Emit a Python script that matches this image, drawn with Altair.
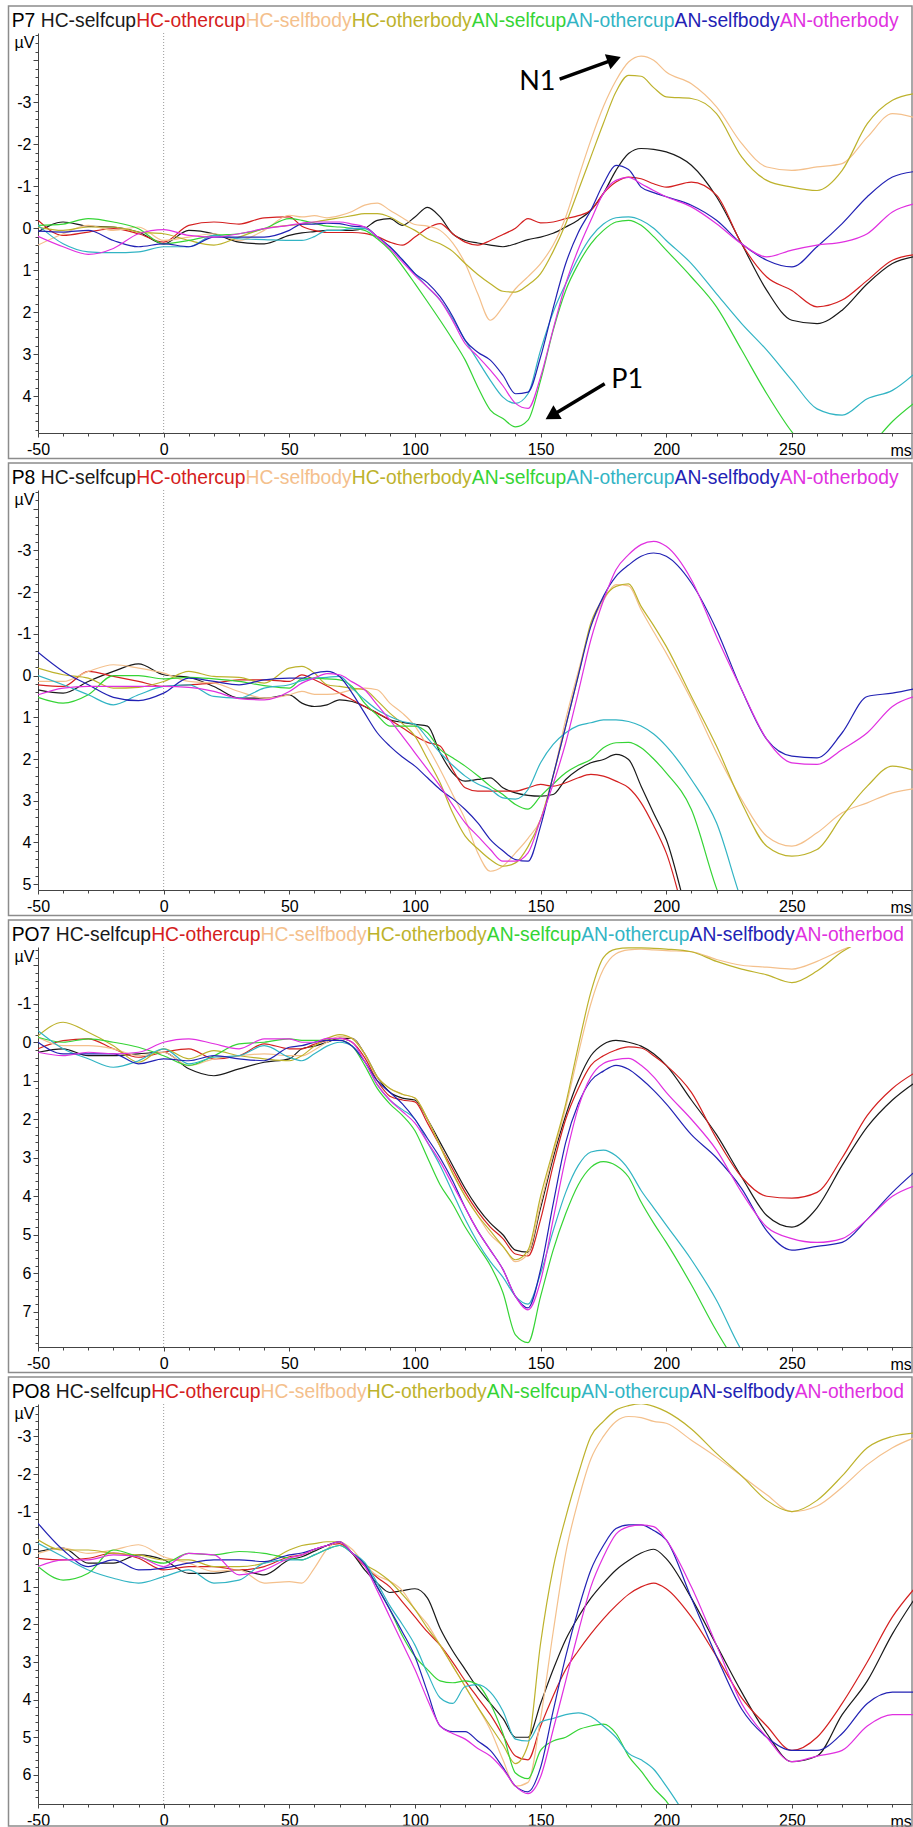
import math
import altair as alt
import pandas as pd

# Sampling times (ms) shared by every waveform
TIME = [-50, -40, -30, -20, -10, 0, 10, 20, 30, 40, 50,
        55, 60, 65, 70, 75, 80, 85, 90, 95, 100,
        105, 110, 115, 120, 125, 130, 135, 140, 145, 150,
        155, 160, 165, 170, 175, 180, 185, 190, 195, 200,
        210, 220, 230, 240, 250, 260, 270, 280, 290, 300]

SERIES = ["HC-selfcup", "HC-othercup", "HC-selfbody", "HC-otherbody",
          "AN-selfcup", "AN-othercup", "AN-selfbody", "AN-otherbody"]
COLORS = ["#1a1a1a", "#d42020", "#f4c08c", "#bdb22c",
          "#35d435", "#32b4c4", "#2222b4", "#e030e0"]

# ---- P7 (µV) ----
P7_HC_SELFCUP = [0.09, -0.15, -0.05, -0.03, 0.09, 0.37, 0.05, 0.13, 0.33, 0.37, 0.17,
                 0.11, 0.08, 0.05, 0.05, 0.05, 0.0, -0.19, -0.23, -0.07, -0.27,
                 -0.5, -0.27, 0.13, 0.29, 0.35, 0.4, 0.44, 0.37, 0.27, 0.21,
                 0.12, -0.03, -0.2, -0.43, -0.83, -1.38, -1.78, -1.9, -1.88, -1.82,
                 -1.5, -0.75, 0.37, 1.48, 2.19, 2.27, 1.95, 1.32, 0.84, 0.66]
P7_HC_OTHERCUP = [-0.19, 0.17, 0.09, 0.01, 0.13, 0.33, -0.07, -0.15, -0.1, -0.25, -0.27,
                  -0.05, 0.05, 0.1, 0.1, 0.1, 0.12, 0.2, 0.33, 0.4, 0.21,
                  0.0, -0.11, 0.13, 0.33, 0.4, 0.29, 0.15, 0.0, -0.23, -0.13,
                  -0.15, -0.23, -0.3, -0.43, -0.83, -1.1, -1.22, -1.18, -1.06, -0.98,
                  -1.1, -0.79, 0.37, 1.16, 1.48, 1.87, 1.71, 1.24, 0.76, 0.62]
P7_HC_SELFBODY = [0.4, 0.13, -0.07, 0.05, -0.03, 0.29, 0.21, 0.13, 0.29, 0.05, -0.31,
                  -0.27, -0.3, -0.25, -0.3, -0.4, -0.55, -0.6, -0.43, -0.25, -0.09,
                  -0.05, 0.05, 0.35, 0.84, 1.56, 2.19, 1.87, 1.44, 1.15, 0.84,
                  0.4, -0.27, -1.2, -2.1, -2.9, -3.52, -3.96, -4.1, -4.0, -3.72,
                  -3.44, -2.89, -2.02, -1.46, -1.38, -1.46, -1.54, -2.17, -2.73, -2.62]
P7_HC_OTHERBODY = [-0.03, 0.05, -0.03, -0.03, 0.09, 0.13, 0.29, 0.4, 0.21, 0.01, -0.07,
                   -0.1, -0.15, -0.2, -0.25, -0.3, -0.35, -0.35, -0.27, -0.1, 0.05,
                   0.25, 0.37, 0.55, 0.84, 1.1, 1.32, 1.5, 1.52, 1.35, 1.08,
                   0.55, -0.11, -0.9, -1.7, -2.5, -3.25, -3.64, -3.62, -3.35, -3.13,
                   -3.09, -2.73, -1.7, -1.14, -0.98, -0.9, -1.38, -2.49, -3.05, -3.22]
P7_AN_SELFCUP = [-0.07, -0.1, -0.23, -0.15, 0.01, 0.37, 0.29, 0.17, 0.13, 0.01, -0.23,
                 -0.19, -0.12, -0.05, -0.03, 0.0, 0.05, 0.25, 0.52, 0.9, 1.32,
                 1.75, 2.19, 2.65, 3.14, 3.78, 4.33, 4.53, 4.73, 4.57, 3.62,
                 2.43, 1.48, 0.85, 0.37, 0.05, -0.15, -0.19, -0.07, 0.2, 0.52,
                 1.16, 1.87, 2.9, 3.94, 4.85, 5.5, 5.6, 5.25, 4.6, 4.1]
P7_AN_OTHERCUP = [-0.07, 0.37, 0.56, 0.58, 0.56, 0.44, 0.44, 0.17, 0.25, 0.27, 0.29,
                  0.29, 0.2, 0.05, 0.05, 0.0, 0.01, 0.2, 0.44, 0.75, 1.08,
                  1.4, 1.71, 2.15, 2.67, 3.15, 3.62, 4.02, 4.17, 3.94, 2.9,
                  2.0, 1.32, 0.7, 0.21, -0.1, -0.25, -0.27, -0.19, 0.0, 0.29,
                  0.84, 1.56, 2.27, 2.9, 3.62, 4.3, 4.45, 4.06, 3.86, 3.4]
P7_AN_SELFBODY = [0.07, 0.09, 0.05, 0.29, 0.44, 0.37, 0.44, 0.21, 0.21, 0.21, 0.05,
                  -0.1, -0.1, -0.12, -0.11, -0.05, -0.03, 0.2, 0.44, 0.75, 1.08,
                  1.3, 1.63, 2.1, 2.67, 2.95, 3.14, 3.5, 3.94, 3.9, 3.06,
                  1.9, 0.84, 0.1, -0.43, -1.06, -1.5, -1.4, -0.98, -0.85, -0.75,
                  -0.55, -0.19, 0.37, 0.76, 0.92, 0.44, -0.11, -0.75, -1.22, -1.36]
P7_AN_OTHERBODY = [0.19, 0.44, 0.62, 0.48, 0.13, 0.03, 0.17, 0.21, 0.13, 0.01, -0.07,
                   -0.12, -0.15, -0.15, -0.15, -0.1, -0.03, 0.2, 0.48, 0.8, 1.12,
                   1.4, 1.71, 2.2, 2.75, 3.05, 3.38, 3.75, 4.17, 4.29, 3.54,
                   2.4, 1.32, 0.5, -0.19, -0.83, -1.14, -1.21, -1.06, -0.9, -0.75,
                   -0.51, -0.11, 0.37, 0.68, 0.52, 0.4, 0.33, 0.13, -0.39, -0.6]

# ---- P8 (µV) ----
P8_HC_SELFCUP = [0.34, 0.42, 0.14, -0.1, -0.28, -0.02, 0.04, 0.26, 0.54, 0.54, 0.46,
                 0.66, 0.74, 0.7, 0.58, 0.62, 0.74, 0.9, 1.06, 1.12, 1.17,
                 1.21, 1.85, 2.33, 2.53, 2.49, 2.45, 2.69, 2.81, 2.87, 2.89,
                 2.85, 2.49, 2.25, 2.09, 2.01, 1.89, 2.01, 2.65, 3.3, 3.93,
                 6.0, 7.0, 8.0, 8.5, 8.5, 8.3, 8.0, 7.6, 7.2, 6.8]
P8_HC_OTHERCUP = [0.22, 0.26, -0.1, 0.02, 0.14, 0.26, 0.22, 0.18, 0.1, 0.1, 0.14,
                  -0.02, 0.1, 0.25, 0.42, 0.58, 0.74, 0.9, 1.06, 1.25, 1.45,
                  1.6, 1.69, 2.25, 2.69, 2.77, 2.77, 2.77, 2.77, 2.69, 2.61,
                  2.65, 2.57, 2.45, 2.37, 2.41, 2.53, 2.69, 3.05, 3.6, 4.25,
                  6.3, 7.5, 8.3, 8.6, 8.5, 8.2, 7.8, 7.4, 7.0, 6.6]
P8_HC_SELFBODY = [0.14, 0.14, -0.1, -0.26, -0.18, -0.06, 0.14, 0.18, 0.38, 0.54, 0.46,
                  0.38, 0.45, 0.45, 0.42, 0.34, 0.3, 0.34, 0.66, 0.9, 1.21,
                  1.7, 2.25, 2.85, 3.45, 4.25, 4.69, 4.57, 4.25, 3.9, 3.45,
                  2.4, 1.05, -0.1, -1.18, -1.8, -2.18, -2.15, -1.58, -1.05, -0.54,
                  0.58, 1.85, 2.97, 3.85, 4.09, 3.77, 3.29, 3.05, 2.81, 2.7]
P8_HC_OTHERBODY = [-0.18, -0.02, 0.06, 0.3, 0.28, 0.14, -0.1, 0.02, 0.04, 0.18, -0.18,
                   -0.22, -0.06, 0.22, 0.26, 0.3, 0.34, 0.6, 0.9, 1.15, 1.45,
                   2.0, 2.57, 3.29, 3.85, 4.15, 4.41, 4.57, 4.49, 4.1, 3.45,
                   2.4, 1.21, 0.0, -1.26, -1.85, -2.14, -2.2, -1.66, -1.2, -0.7,
                   0.5, 1.69, 3.05, 4.09, 4.33, 4.17, 3.37, 2.65, 2.17, 2.3]
P8_AN_SELFCUP = [0.52, 0.66, 0.46, 0.0, 0.0, 0.08, 0.04, 0.08, 0.14, 0.24, 0.3,
                 0.08, 0.06, 0.08, 0.1, 0.26, 0.66, 0.95, 1.21, 1.21, 1.21,
                 1.37, 1.77, 1.97, 2.17, 2.4, 2.65, 2.85, 3.09, 3.2, 2.89,
                 2.6, 2.33, 2.15, 2.01, 1.73, 1.61, 1.6, 1.73, 2.0, 2.33,
                 3.21, 5.1, 6.5, 7.3, 7.6, 7.6, 7.4, 7.1, 6.8, 6.5]
P8_AN_OTHERCUP = [0.0, 0.22, 0.46, 0.7, 0.46, 0.26, 0.22, 0.5, 0.54, 0.3, 0.22,
                  0.12, 0.06, 0.04, 0.02, 0.3, 0.58, 0.82, 0.98, 1.1, 1.17,
                  1.5, 1.85, 2.15, 2.41, 2.6, 2.73, 2.93, 2.96, 2.73, 2.09,
                  1.65, 1.37, 1.2, 1.13, 1.06, 1.06, 1.1, 1.21, 1.4, 1.69,
                  2.49, 3.53, 5.4, 6.8, 7.5, 7.8, 7.7, 7.4, 7.1, 6.8]
P8_AN_SELFBODY = [-0.56, -0.1, 0.22, 0.52, 0.6, 0.42, 0.06, 0.14, 0.22, 0.1, 0.06,
                  0.06, -0.06, -0.1, 0.02, 0.42, 0.9, 1.37, 1.69, 1.95, 2.17,
                  2.45, 2.73, 2.95, 3.21, 3.53, 3.93, 4.2, 4.41, 4.45, 3.61,
                  2.4, 1.21, 0.0, -1.18, -1.9, -2.38, -2.65, -2.86, -2.94, -2.86,
                  -2.22, -1.1, 0.34, 1.53, 1.93, 1.97, 1.37, 0.5, 0.42, 0.3]
P8_AN_OTHERBODY = [0.46, 0.3, 0.26, 0.26, 0.26, 0.26, 0.28, 0.38, 0.55, 0.58, 0.38,
                   0.18, 0.06, -0.05, -0.02, 0.15, 0.34, 0.7, 1.06, 1.45, 1.85,
                   2.25, 2.65, 3.1, 3.53, 3.85, 4.17, 4.45, 4.45, 4.25, 3.45,
                   2.6, 1.61, 0.4, -0.86, -1.8, -2.54, -2.9, -3.14, -3.22, -3.1,
                   -2.3, -0.94, 0.34, 1.53, 2.09, 2.13, 1.77, 1.37, 0.74, 0.48]

# ---- PO7 (µV) ----
PO7_HC_SELFCUP = [0.26, 0.17, 0.35, 0.35, 0.3, 0.26, 0.69, 0.87, 0.69, 0.52, 0.43,
                  0.17, 0.1, 0.0, -0.1, -0.1, 0.3, 0.9, 1.3, 1.45, 1.5,
                  2.0, 2.6, 3.2, 3.8, 4.3, 4.7, 5.0, 5.4, 5.45, 4.3,
                  3.0, 1.9, 1.0, 0.35, 0.05, -0.05, 0.0, 0.1, 0.3, 0.6,
                  1.5, 2.4, 3.5, 4.5, 4.8, 4.3, 3.2, 2.2, 1.5, 1.0]
PO7_HC_OTHERCUP = [0.17, -0.04, -0.09, 0.17, 0.39, 0.26, 0.17, 0.43, 0.35, 0.04, 0.17,
                   0.17, 0.05, -0.05, -0.1, 0.0, 0.4, 1.0, 1.4, 1.5, 1.55,
                   2.1, 2.7, 3.3, 3.9, 4.4, 4.8, 5.1, 5.5, 5.55, 4.6,
                   3.2, 2.0, 1.2, 0.6, 0.35, 0.2, 0.12, 0.15, 0.35, 0.6,
                   1.3, 2.5, 3.5, 4.0, 4.05, 3.9, 3.0, 1.9, 1.2, 0.75]
PO7_HC_SELFBODY = [-0.13, 0.09, 0.09, 0.17, 0.35, 0.26, 0.61, 0.43, 0.35, 0.3, 0.35,
                   0.35, 0.2, 0.0, -0.15, -0.1, 0.3, 0.9, 1.2, 1.35, 1.45,
                   2.0, 2.7, 3.4, 4.0, 4.5, 5.0, 5.3, 5.7, 5.5, 4.2,
                   2.9, 1.7, 0.3, -1.0, -1.9, -2.3, -2.4, -2.42, -2.4, -2.38,
                   -2.35, -2.15, -2.0, -1.95, -1.9, -2.1, -2.4, -2.65, -2.9, -3.1]
PO7_HC_OTHERBODY = [-0.17, -0.52, -0.26, 0.09, 0.52, 0.17, 0.43, 0.22, 0.35, 0.43, 0.48,
                    0.35, 0.1, -0.1, -0.2, -0.1, 0.3, 0.9, 1.2, 1.35, 1.45,
                    2.0, 2.7, 3.4, 4.0, 4.5, 4.9, 5.3, 5.65, 5.4, 4.0,
                    2.8, 1.6, 0.1, -1.3, -2.2, -2.42, -2.45, -2.45, -2.44, -2.42,
                    -2.35, -2.1, -1.9, -1.75, -1.55, -1.85, -2.35, -2.7, -3.0, -3.1]
PO7_AN_SELFCUP = [-0.13, 0.0, -0.09, 0.0, 0.13, 0.35, 0.6, 0.35, 0.04, 0.0, -0.09,
                  -0.05, -0.05, -0.05, -0.05, 0.1, 0.6, 1.2, 1.6, 1.9, 2.3,
                  3.0, 3.7, 4.2, 4.8, 5.3, 5.8, 6.5, 7.6, 7.8, 6.6,
                  5.4, 4.45, 3.7, 3.25, 3.1, 3.2, 3.5, 4.15, 4.7, 5.2,
                  6.3, 7.5, 8.5, 9.0, 9.2, 9.0, 8.8, 8.5, 8.3, 8.1]
PO7_AN_OTHERCUP = [-0.3, 0.17, 0.43, 0.65, 0.48, 0.17, 0.56, 0.39, 0.35, 0.09, 0.39,
                   0.48, 0.3, 0.1, 0.0, 0.1, 0.5, 1.1, 1.5, 1.75, 2.0,
                   2.6, 3.2, 3.9, 4.6, 5.2, 5.7, 6.1, 6.6, 6.8, 6.0,
                   4.9, 3.9, 3.2, 2.85, 2.8, 2.95, 3.3, 3.85, 4.3, 4.75,
                   5.65, 6.7, 8.0, 8.7, 9.0, 9.0, 8.8, 8.6, 8.4, 8.2]
PO7_AN_SELFBODY = [0.0, 0.3, 0.3, 0.3, 0.56, 0.43, 0.48, 0.35, 0.43, 0.48, 0.13,
                   0.09, 0.0, -0.05, -0.05, 0.1, 0.5, 1.0, 1.3, 1.6, 2.0,
                   2.5, 3.0, 3.6, 4.3, 4.9, 5.4, 5.9, 6.6, 6.9, 5.9,
                   4.2, 2.6, 1.6, 1.0, 0.75, 0.6, 0.7, 0.95, 1.25, 1.6,
                   2.4, 3.0, 3.8, 4.9, 5.4, 5.3, 5.2, 4.6, 3.9, 3.3]
PO7_AN_OTHERBODY = [0.26, 0.35, 0.26, 0.3, 0.26, 0.0, -0.09, 0.04, 0.17, -0.09, -0.09,
                    0.0, 0.0, -0.1, -0.1, 0.0, 0.5, 1.1, 1.5, 1.8, 2.1,
                    2.6, 3.1, 3.7, 4.3, 4.9, 5.4, 5.9, 6.6, 6.95, 6.2,
                    4.6, 3.0, 1.7, 0.9, 0.55, 0.45, 0.42, 0.6, 0.9, 1.3,
                    2.0, 2.8, 3.9, 4.8, 5.1, 5.2, 5.1, 4.6, 4.0, 3.7]

# ---- PO8 (µV) ----
PO8_HC_SELFCUP = [0.06, -0.03, 0.37, 0.37, 0.15, 0.28, 0.64, 0.64, 0.55, 0.68, 0.28,
                  0.2, 0.05, -0.1, -0.2, 0.1, 0.55, 0.9, 1.15, 1.1, 1.05,
                  1.3, 2.1, 2.7, 3.2, 3.7, 4.1, 4.5, 5.0, 5.0, 4.1,
                  3.2, 2.4, 1.8, 1.3, 0.9, 0.55, 0.3, 0.1, 0.0, 0.25,
                  1.3, 2.55, 3.8, 4.9, 5.65, 5.5, 4.4, 3.5, 2.25, 1.2]
PO8_HC_OTHERCUP = [0.24, 0.28, 0.24, 0.1, 0.24, 0.55, 0.46, 0.46, 0.55, 0.46, 0.2,
                   0.15, 0.0, -0.1, -0.15, 0.1, 0.45, 0.75, 1.0, 1.4, 1.8,
                   2.2, 2.55, 3.0, 3.5, 3.95, 4.4, 4.95, 5.5, 5.6, 4.7,
                   3.9, 3.2, 2.7, 2.25, 1.85, 1.5, 1.2, 1.0, 0.9, 1.05,
                   1.8, 2.85, 3.95, 4.7, 5.35, 5.0, 4.1, 3.0, 1.8, 0.95]
PO8_HC_SELFBODY = [0.11, -0.03, 0.11, 0.02, -0.12, 0.2, 0.37, 0.59, 0.55, 0.9, 0.86,
                   0.9, 0.5, 0.0, -0.2, 0.0, 0.4, 0.7, 0.85, 1.1, 1.6,
                   2.0, 2.55, 3.1, 3.65, 4.2, 4.8, 5.6, 6.3, 6.2, 4.5,
                   2.2, 0.1, -1.3, -2.4, -3.0, -3.4, -3.53, -3.5, -3.4, -3.35,
                   -2.9, -2.45, -1.95, -1.45, -1.0, -1.15, -1.65, -2.25, -2.7, -3.0]
PO8_HC_OTHERBODY = [-0.25, 0.02, 0.02, 0.11, 0.15, 0.28, 0.28, 0.46, 0.46, 0.37, 0.02,
                    -0.1, -0.15, -0.2, -0.2, 0.1, 0.4, 0.6, 0.85, 1.2, 1.6,
                    2.1, 2.55, 3.1, 3.65, 4.2, 4.7, 5.2, 5.7, 5.2, 2.5,
                    0.5, -0.85, -2.0, -3.0, -3.4, -3.7, -3.82, -3.87, -3.8, -3.66,
                    -3.2, -2.55, -1.95, -1.3, -1.0, -1.3, -1.95, -2.7, -3.0, -3.1]
PO8_AN_SELFCUP = [0.46, 0.82, 0.64, 0.02, 0.2, 0.37, 0.11, 0.15, 0.06, 0.11, 0.24,
                  0.28, 0.15, 0.0, -0.1, 0.1, 0.4, 1.0, 1.6, 2.3, 2.85,
                  3.2, 3.5, 3.55, 3.5, 3.6, 4.1, 4.9, 5.95, 6.1, 5.35,
                  5.1, 5.0, 4.8, 4.7, 4.65, 4.9, 5.5, 5.9, 6.35, 6.7,
                  7.8, 8.5, 9.0, 9.2, 9.2, 9.0, 8.8, 8.6, 8.4, 8.2]
PO8_AN_OTHERCUP = [-0.16, 0.2, 0.55, 0.77, 0.9, 0.73, 0.55, 0.9, 0.82, 0.37, 0.28,
                   0.28, 0.15, 0.0, -0.1, 0.1, 0.35, 0.9, 1.5, 2.0, 2.55,
                   3.3, 3.95, 4.1, 3.65, 3.6, 3.8, 4.3, 5.05, 5.1, 4.6,
                   4.5, 4.4, 4.35, 4.45, 4.7, 5.0, 5.43, 5.6, 5.85, 6.3,
                   7.3, 8.2, 8.8, 9.1, 9.2, 9.0, 8.8, 8.6, 8.4, 8.2]
PO8_AN_SELFBODY = [-0.69, 0.02, 0.46, 0.28, 0.55, 0.5, 0.37, 0.28, 0.28, 0.33, 0.15,
                   0.1, 0.0, -0.1, -0.2, 0.1, 0.4, 1.0, 1.6, 2.2, 2.85,
                   3.8, 4.7, 4.85, 4.85, 5.1, 5.35, 5.8, 6.3, 6.45, 5.8,
                   4.3, 2.85, 1.6, 0.55, -0.1, -0.55, -0.65, -0.65, -0.5, -0.25,
                   1.3, 2.85, 4.25, 5.0, 5.35, 5.35, 4.9, 4.1, 3.8, 3.8]
PO8_AN_OTHERBODY = [0.46, 0.28, 0.28, 0.15, 0.2, 0.46, 0.11, 0.15, 0.68, 0.55, 0.24,
                    0.15, 0.0, -0.1, -0.2, 0.1, 0.45, 1.1, 1.8, 2.5, 3.2,
                    4.0, 4.7, 4.9, 5.05, 5.3, 5.5, 5.85, 6.3, 6.5, 6.05,
                    4.8, 3.5, 2.2, 1.0, 0.2, -0.4, -0.6, -0.65, -0.6, -0.25,
                    1.0, 2.55, 4.1, 5.0, 5.65, 5.5, 5.35, 4.7, 4.4, 4.4]

PANEL_NAMES = ["P7", "P8", "PO7", "PO8"]
PANEL_DATA = [
    [P7_HC_SELFCUP, P7_HC_OTHERCUP, P7_HC_SELFBODY, P7_HC_OTHERBODY,
     P7_AN_SELFCUP, P7_AN_OTHERCUP, P7_AN_SELFBODY, P7_AN_OTHERBODY],
    [P8_HC_SELFCUP, P8_HC_OTHERCUP, P8_HC_SELFBODY, P8_HC_OTHERBODY,
     P8_AN_SELFCUP, P8_AN_OTHERCUP, P8_AN_SELFBODY, P8_AN_OTHERBODY],
    [PO7_HC_SELFCUP, PO7_HC_OTHERCUP, PO7_HC_SELFBODY, PO7_HC_OTHERBODY,
     PO7_AN_SELFCUP, PO7_AN_OTHERCUP, PO7_AN_SELFBODY, PO7_AN_OTHERBODY],
    [PO8_HC_SELFCUP, PO8_HC_OTHERCUP, PO8_HC_SELFBODY, PO8_HC_OTHERBODY,
     PO8_AN_SELFCUP, PO8_AN_OTHERCUP, PO8_AN_SELFBODY, PO8_AN_OTHERBODY],
]
# Amplitude range of each panel (top, bottom) – negative is drawn upward
Y_RANGES = [(-4.65, 4.875), (-4.45, 5.14), (-2.474, 7.916), (-3.863, 6.775)]
# Topmost labelled amplitude of each panel (the µV unit sits above it)
FIRST_LABEL = [-3, -3, -1, -3]

# Component labels in the P7 panel: text position and arrow (start -> tip)
NOTE_LABELS = ["N1", "P1"]
NOTE_TIME = [148.7, 184.5]
NOTE_UV = [-3.48, 3.62]
ARROW_FROM = [(157.6, -3.55), (175.5, 3.7)]
ARROW_TO = [(181.9, -4.08), (152.0, 4.55)]

FONT = "Liberation Sans"
HEADER_SIZE = 19.3
W, H = 875, 400
PX_PER_MS = 2.513
X_MIN = -50
X_MAX = X_MIN + W / PX_PER_MS
FRAME_BOTTOM = [25.5, 25.5, 25.5, 22]

# Advance widths (1/1000 em) of the header glyphs in Arial / Liberation Sans
GLYPH_W = {" ": 278, "-": 333, "7": 556, "8": 556, "A": 667, "C": 722, "H": 722,
           "N": 722, "O": 778, "P": 667, "b": 556, "c": 500, "d": 556, "e": 556,
           "f": 278, "h": 556, "l": 222, "o": 556, "p": 556, "r": 333, "s": 500,
           "t": 278, "u": 556, "y": 500}


def text_width(s):
    return sum(GLYPH_W[ch] for ch in s) / 1000 * HEADER_SIZE


x_axis = alt.Axis(
    values=list(range(-50, 300, 10)),
    labelExpr="datum.value % 50 === 0 ? '' + datum.value : ''",
    tickSize={"condition": {"test": "datum.value % 50 === 0", "value": 4}, "value": 3},
    title="ms", titleX=852, titleY=22, titleAlign="left", titleBaseline="alphabetic",
    titleAngle=0, titleFont=FONT, titleFontSize=16, titleFontWeight="normal",
    titleColor="black", labelFont=FONT, labelFontSize=16, labelColor="black",
    labelPadding=4, labelFlush=False, labelOverlap=False, grid=False,
    domainColor="#444444", tickColor="#444444",
)


def y_axis(lo, hi, first):
    ticks = [round(k / 5, 1) for k in range(math.ceil(lo * 5 - 1e-9), math.floor(hi * 5 + 1e-9) + 1)]
    major = "abs(datum.value - round(datum.value)) < 0.01"
    return alt.Axis(
        values=ticks,
        labelExpr=f"{major} && datum.value > {first - 0.5} ? '' + round(datum.value) : ''",
        tickSize={"condition": {"test": major, "value": 5}, "value": 3},
        title="µV", titleAngle=0, titleX=-4, titleY=9, titleAlign="right",
        titleBaseline="middle", titleFont=FONT, titleFontSize=16,
        titleFontWeight="normal", titleColor="black",
        labelFont=FONT, labelFontSize=16, labelColor="black", labelPadding=2,
        labelFlush=False, labelOverlap=False, grid=False,
        domainColor="#444444", tickColor="#444444",
    )


def header_layers(name):
    """Panel name followed by the condition names, each in its line colour;
    the row is cut off at the right edge of the panel."""
    pieces = [(name + " ", "#000000")] + list(zip(SERIES, COLORS))
    layers = []
    left = -26.25
    for text, col in pieces:
        room = W - left
        layers.append(
            alt.Chart(pd.DataFrame({"k": [0]})).mark_text(
                text=text.strip(), color=col, font=FONT, fontSize=HEADER_SIZE,
                align="left", baseline="alphabetic", limit=room, ellipsis=" ",
            ).encode(x=alt.value(left), y=alt.value(-6.5))
        )
        left += text_width(text)
    return layers


def panel(idx):
    name = PANEL_NAMES[idx]
    lo, hi = Y_RANGES[idx]
    rows = []
    for s, vals in zip(SERIES, PANEL_DATA[idx]):
        assert len(vals) == len(TIME), (name, s, len(vals))
        rows += [{"time": t, "uv": v, "series": s} for t, v in zip(TIME, vals)]
    df = pd.DataFrame(rows)

    x_enc = alt.X("time:Q", scale=alt.Scale(domain=[X_MIN, X_MAX], nice=False, zero=False), axis=x_axis)
    y_enc = alt.Y("uv:Q", scale=alt.Scale(domain=[lo, hi], reverse=True, nice=False, zero=False),
                  axis=y_axis(lo, hi, FIRST_LABEL[idx]))

    frame = alt.Chart(pd.DataFrame({"k": [0]})).mark_rect(
        fillOpacity=0, stroke="#8c8c8c", strokeWidth=1.5
    ).encode(x=alt.value(-29.5), x2=alt.value(W - 1), y=alt.value(-27),
             y2=alt.value(H + FRAME_BOTTOM[idx]))

    onset = alt.Chart(pd.DataFrame({"time": [0]})).mark_rule(
        color="#9a9a9a", strokeDash=[1, 2], strokeWidth=1
    ).encode(x=x_enc)

    lines = alt.Chart(df).mark_line(clip=True, strokeWidth=1.2, interpolate="monotone").encode(
        x=x_enc, y=y_enc,
        color=alt.Color("series:N", scale=alt.Scale(domain=SERIES, range=COLORS), legend=None),
    )

    layers = [frame, onset, lines] + header_layers(name)

    if idx == 0:
        kx = W / (X_MAX - X_MIN)
        ky = H / (hi - lo)
        notes = pd.DataFrame({"time": NOTE_TIME, "uv": NOTE_UV, "label": NOTE_LABELS})
        shafts, heads = [], []
        for (t0, v0), (t1, v1) in zip(ARROW_FROM, ARROW_TO):
            dx, dy = (t1 - t0) * kx, (v1 - v0) * ky
            back = 7.0 / math.hypot(dx, dy)
            tc, vc = t1 - (t1 - t0) * back, v1 - (v1 - v0) * back
            shafts.append({"time": t0, "uv": v0, "time2": tc, "uv2": vc})
            heads.append({"time": tc, "uv": vc,
                          "angle": math.degrees(math.atan2(dy, dx)) % 360})
        layers += [
            alt.Chart(pd.DataFrame(shafts)).mark_rule(strokeWidth=3.5, color="black").encode(
                x=x_enc, x2="time2:Q", y=y_enc, y2="uv2:Q"),
            alt.Chart(pd.DataFrame(heads)).mark_point(
                shape="triangle-right", filled=True, size=260, color="black", opacity=1,
                strokeWidth=0).encode(x=x_enc, y=y_enc, angle=alt.Angle("angle:Q", scale=None)),
            alt.Chart(notes).mark_text(font="Lato", fontSize=27, color="black",
                                       align="center", baseline="middle").encode(
                x=x_enc, y=y_enc, text="label:N"),
        ]

    return alt.layer(*layers).properties(width=W, height=H)


chart = alt.vconcat(*[panel(i) for i in range(4)], spacing=2).properties(
    padding={"left": 7, "top": 5, "right": 0, "bottom": 0},
    background="white",
).configure_view(strokeWidth=0)

chart.save("out.html", embed_options={"renderer": "svg", "actions": False})
